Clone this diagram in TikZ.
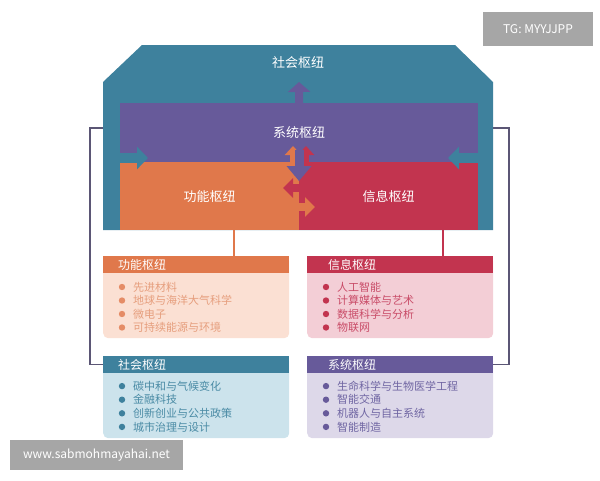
\documentclass[tikz,border=0pt]{standalone}
\usepackage{fontspec}
\setmainfont{Noto Sans CJK SC}
\usetikzlibrary{arrows.meta}
\usetikzlibrary{positioning}

\definecolor{shDark}{HTML}{3E819D}
\definecolor{xtDark}{HTML}{675A9A}
\definecolor{gnDark}{HTML}{E0784B}
\definecolor{xxDark}{HTML}{C2344F}
\definecolor{gnLight}{HTML}{FBE0D3}
\definecolor{xxLight}{HTML}{F3CED6}
\definecolor{shLight}{HTML}{CCE3EC}
\definecolor{xtLight}{HTML}{DDD8E9}
\definecolor{gnText}{HTML}{E69E7D}
\definecolor{xxText}{HTML}{C94C68}
\definecolor{shText}{HTML}{4A8BA5}
\definecolor{xtText}{HTML}{7066A3}
\definecolor{linkGray}{HTML}{5B5675}
\definecolor{markGray}{HTML}{A6A6A6}

\tikzset{
  region/.style={anchor=north west, inner sep=0pt, text=white,
    font=\fontsize{13}{13}\selectfont},
  flow/.style={line width=8pt, -{Triangle[width=22pt, length=10pt]}},
  smallflow/.style={line width=6pt, -{Triangle[width=16pt, length=9pt]}},
  hubbody/.style={anchor=north west, inner sep=0pt, minimum width=186pt,
    minimum height=82pt, rounded corners=5pt},
  hubhead/.style={anchor=north west, inner sep=0pt, minimum width=186pt,
    minimum height=17pt},
  headtext/.style={anchor=west, inner sep=0pt, text=white,
    font=\fontsize{12}{12}\selectfont},
  item/.style={anchor=west, inner sep=0pt, font=\fontsize{11}{11}\selectfont},
  linkline/.style={linkGray, line width=1.2pt},
  stamp/.style={fill=markGray, text=white, inner sep=0pt,
    font=\fontsize{12}{12}\selectfont},
}

\begin{document}
\begin{tikzpicture}[x=1pt, y=-1pt]
  \useasboundingbox (0,0) rectangle (600,480);

  % watermarks
  \node[stamp, minimum width=110pt, minimum height=34pt] (tgMark) at (538,29) {TG: MYYJJPP};
  \node[stamp, minimum width=173pt, minimum height=30pt] (webMark) at (96.5,455) {www.sabmohmayahai.net};

  % hub shapes
  \fill[shDark] (142,45) -- (455,45) -- (493,82) -- (493,230) -- (103,230) -- (103,82) -- cycle;
  \node[text=white, font=\fontsize{13}{13}\selectfont] (shehui) at (298,63) {社会枢纽};
  \node[region, fill=xtDark, minimum width=358pt, minimum height=59pt] (xitong) at (120,103) {系统枢纽};
  \node[region, fill=gnDark, minimum width=179pt, minimum height=68pt] (gongneng) at (120,162) {功能枢纽};
  \node[region, fill=xxDark, minimum width=179pt, minimum height=68pt] (xinxi) at (299,162) {信息枢纽};

  % arrows between hubs
  \coordinate (gnUp) at (293,146);
  \coordinate (xxUp) at (306,146);
  \coordinate (xtDown) at (299,181);
  \coordinate (xtUp) at (299,82);
  \coordinate (xxLeft) at (283,188);
  \coordinate (gnRight) at (315,207);
  \coordinate (shRight) at (148,158);
  \coordinate (shLeft) at (448,158);
  \draw[smallflow, gnDark] (293,168) -- (gnUp);
  \draw[smallflow, xxDark] (306,168) -- (xxUp);
  \draw[xtDark, line width=9pt, -{Triangle[width=24pt, length=15pt]}] (299,150) -- (xtDown);
  \draw[xtDark, flow] (xitong.north) -- (xtUp);
  \draw[xxDark, line width=8pt, -{Triangle[width=19pt, length=10pt]}] (306,188) -- (xxLeft);
  \draw[gnDark, line width=8pt, -{Triangle[width=19pt, length=10pt]}] (292,207) -- (gnRight);
  \draw[shDark, line width=10pt, -{Triangle[width=22pt, length=11pt]}] (112,158) -- (shRight);
  \draw[shDark, line width=10pt, -{Triangle[width=22pt, length=11pt]}] (486,158) -- (shLeft);

  % detail boxes
  \node[hubbody, fill=gnLight] (gnBody) at (103,256) {};
  \node[hubhead, fill=gnDark] (gnHead) at (103,256) {};
  \node[headtext, right=15pt of gnHead.west] {功能枢纽};
  \foreach \t [count=\i] in {先进材料,地球与海洋大气科学,微电子,可持续能源与环境} {
    \fill[gnDark!85] (122,273.5+13.5*\i) circle (3.2pt);
    \node[item, text=gnText] (gn\i) at (133,273.5+13.5*\i) {\t};
  }

  \node[hubbody, fill=xxLight] (xxBody) at (307,256) {};
  \node[hubhead, fill=xxDark] (xxHead) at (307,256) {};
  \node[headtext, right=21pt of xxHead.west] {信息枢纽};
  \foreach \t [count=\i] in {人工智能,计算媒体与艺术,数据科学与分析,物联网} {
    \fill[xxDark] (326,273.5+13.5*\i) circle (3.2pt);
    \node[item, text=xxText] (xx\i) at (337,273.5+13.5*\i) {\t};
  }

  \node[hubbody, fill=shLight] (shBody) at (103,356) {};
  \node[hubhead, fill=shDark] (shHead) at (103,356) {};
  \node[headtext, right=15pt of shHead.west] {社会枢纽};
  \foreach \t [count=\i] in {碳中和与气候变化,金融科技,创新创业与公共政策,城市治理与设计} {
    \fill[shDark] (122,372.5+13.6*\i) circle (3.2pt);
    \node[item, text=shText] (sh\i) at (133,372.5+13.6*\i) {\t};
  }

  \node[hubbody, fill=xtLight] (xtBody) at (307,356) {};
  \node[hubhead, fill=xtDark] (xtHead) at (307,356) {};
  \node[headtext, right=21pt of xtHead.west] {系统枢纽};
  \foreach \t [count=\i] in {生命科学与生物医学工程,智能交通,机器人与自主系统,智能制造} {
    \fill[xtDark] (326,372.5+13.6*\i) circle (3.2pt);
    \node[item, text=xtText] (xt\i) at (337,372.5+13.6*\i) {\t};
  }

  % connectors
  \coordinate (gnJoin) at (234,230);
  \coordinate (xxJoin) at (443,230);
  \draw[gnDark, line width=1.2pt] (gnJoin) -- (gnJoin |- gnHead.north);
  \draw[xxDark, line width=1.2pt] (xxJoin) -- (xxJoin |- xxHead.north);
  \draw[linkline] (shHead.west) -| (90,128) -- (103,128);
  \draw[linkline] (xtHead.east) -| (509,128) -- (493,128);
\end{tikzpicture}
\end{document}
